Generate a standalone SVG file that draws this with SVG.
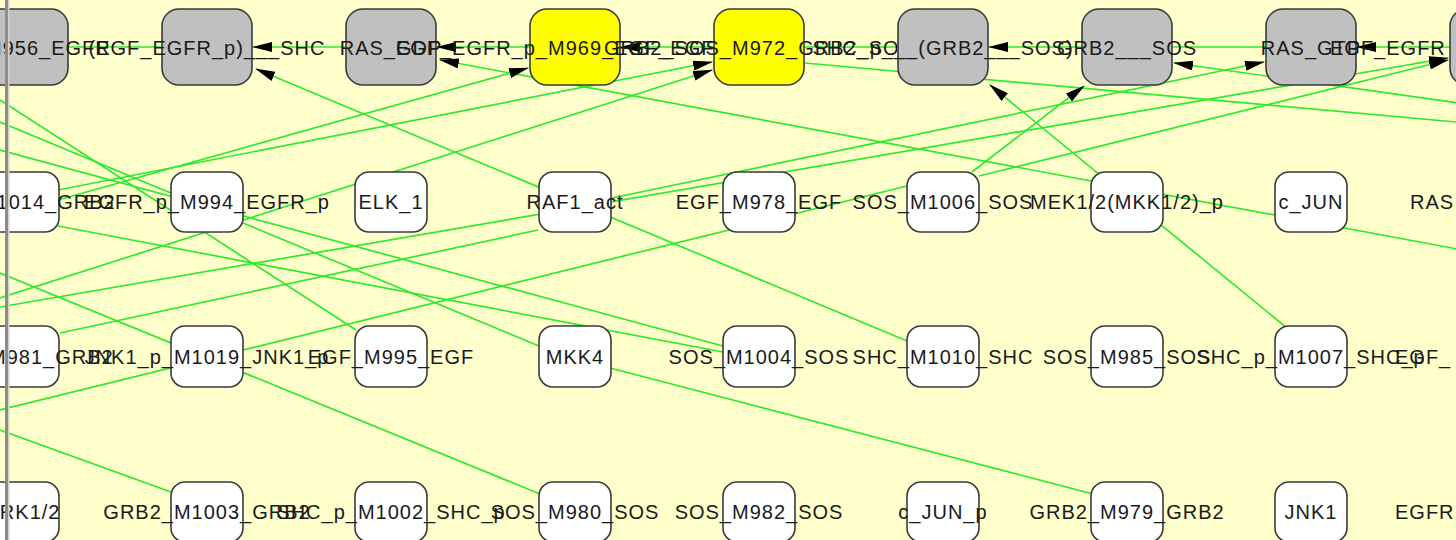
<svg xmlns="http://www.w3.org/2000/svg" width="1456" height="540" viewBox="0 0 1456 540">
  <style>
    .bg { fill: #FFFFCC; }
    .edge { stroke: #2EEA2E; stroke-width: 1.7; fill: none; }
    .arr { marker-end: url(#head); }
    .box { stroke: #3A3A3A; stroke-width: 1.6; }
    .big { fill: #C0C0C0; }
    .sel { fill: #FFFF00; }
    .plain { fill: #FFFFFF; }
    .lbl { font-family: "Liberation Sans", Arial, sans-serif; font-size: 20px; letter-spacing: 1px; fill: #1A1A1A; text-anchor: middle; }
    .lbl.start { text-anchor: start; }
  </style>
  <defs>
    <marker id="head" markerUnits="userSpaceOnUse" markerWidth="20" markerHeight="10" refX="19" refY="5" orient="auto">
      <path d="M0,0 L20,5 L0,10 Z" fill="#000"/>
    </marker>
  </defs>

  <rect class="bg" x="0" y="0" width="1456" height="540"/>

  <!-- connectors -->
  <g id="edges">
    <!-- top row, node to node -->
    <line class="edge" x1="68" y1="47" x2="162" y2="47"/>
    <line class="edge arr" x1="345" y1="47" x2="253" y2="47"/>
    <line class="edge arr" x1="530" y1="47" x2="437" y2="47"/>
    <line class="edge arr" x1="714" y1="47" x2="621" y2="47"/>
    <line class="edge" x1="804" y1="47" x2="898" y2="47"/>
    <line class="edge arr" x1="1082" y1="47" x2="989" y2="47"/>
    <line class="edge" x1="1172" y1="47" x2="1266" y2="47"/>
    <line class="edge arr" x1="1450" y1="47" x2="1357" y2="47"/>

    <!-- diagonals into the top row -->
    <line class="edge arr" x1="907" y1="341" x2="256" y2="69"/>
    <line class="edge arr" x1="1495" y1="256" x2="440" y2="60"/>
    <line class="edge arr" x1="58" y1="200" x2="528" y2="68"/>
    <line class="edge arr" x1="58" y1="190" x2="712" y2="62"/>
    <line class="edge arr" x1="0" y1="298" x2="712" y2="70"/>
    <line class="edge" x1="805" y1="63" x2="1456" y2="122"/>
    <line class="edge arr" x1="1495" y1="108" x2="1174" y2="63"/>
    <line class="edge arr" x1="1287" y1="328" x2="990" y2="85"/>
    <line class="edge arr" x1="972" y1="172" x2="1084" y2="86"/>
    <line class="edge arr" x1="612" y1="198" x2="1264" y2="62"/>
    <line class="edge arr" x1="979" y1="176" x2="1448" y2="60"/>
    <line class="edge arr" x1="0" y1="307" x2="1448" y2="58"/>

    <!-- lower crossings -->
    <line class="edge" x1="60" y1="333" x2="538" y2="230"/>
    <line class="edge" x1="0" y1="410" x2="907" y2="186"/>
    <line class="edge" x1="0" y1="273" x2="540" y2="494"/>
    <line class="edge" x1="0" y1="430" x2="171" y2="492"/>
    <line class="edge" x1="610" y1="368" x2="1093" y2="494"/>
    <line class="edge" x1="0" y1="100" x2="356" y2="330"/>
    <line class="edge" x1="0" y1="122" x2="539" y2="346"/>
    <line class="edge" x1="0" y1="150" x2="723" y2="346"/>
    <line class="edge" x1="58" y1="226" x2="723" y2="352"/>
  </g>

  <!-- top row -->
  <g id="n_r1c0"><rect class="box big" x="-22" y="9" width="90" height="76" rx="17"/><text class="lbl" x="12" y="55">EGFR_M956_EGFR</text></g>
  <g id="n_r1c1"><rect class="box big" x="162" y="9" width="90" height="76" rx="17"/><text class="lbl" x="207" y="55">(EGF_EGFR_p)___SHC</text></g>
  <g id="n_r1c2"><rect class="box big" x="346" y="9" width="90" height="76" rx="17"/><text class="lbl" x="391" y="55">RAS_GDP</text></g>
  <g id="n_r1c3"><rect class="box sel" x="530" y="9" width="90" height="76" rx="17"/><text class="lbl" x="575" y="55">EGF_EGFR_p_M969_EGF_EGFR_p</text></g>
  <g id="n_r1c4"><rect class="box sel" x="714" y="9" width="90" height="76" rx="17"/><text class="lbl" x="759" y="55">GRB2_SOS_M972_GRB2_SOS</text></g>
  <g id="n_r1c5"><rect class="box big" x="898" y="9" width="90" height="76" rx="17"/><text class="lbl" x="943" y="55">SHC_p___(GRB2___SOS)</text></g>
  <g id="n_r1c6"><rect class="box big" x="1082" y="9" width="90" height="76" rx="17"/><text class="lbl" x="1127" y="55">GRB2___SOS</text></g>
  <g id="n_r1c7"><rect class="box big" x="1266" y="9" width="90" height="76" rx="17"/><text class="lbl" x="1311" y="55">RAS_GTP</text></g>
  <g id="n_r1c8"><rect class="box big" x="1450" y="9" width="90" height="76" rx="17"/><text class="lbl start" x="1330" y="55">EGF_EGFR</text></g>

  <!-- second row -->
  <g id="n_r2c0"><rect class="box plain" x="-13" y="172" width="72" height="60" rx="14"/><text class="lbl" x="12" y="209">GRB2_M1014_GRB2</text></g>
  <g id="n_r2c1"><rect class="box plain" x="171" y="172" width="72" height="60" rx="14"/><text class="lbl" x="207" y="209">EGFR_p_M994_EGFR_p</text></g>
  <g id="n_r2c2"><rect class="box plain" x="355" y="172" width="72" height="60" rx="14"/><text class="lbl" x="391" y="209">ELK_1</text></g>
  <g id="n_r2c3"><rect class="box plain" x="539" y="172" width="72" height="60" rx="14"/><text class="lbl" x="575" y="209">RAF1_act</text></g>
  <g id="n_r2c4"><rect class="box plain" x="723" y="172" width="72" height="60" rx="14"/><text class="lbl" x="759" y="209">EGF_M978_EGF</text></g>
  <g id="n_r2c5"><rect class="box plain" x="907" y="172" width="72" height="60" rx="14"/><text class="lbl" x="943" y="209">SOS_M1006_SOS</text></g>
  <g id="n_r2c6"><rect class="box plain" x="1091" y="172" width="72" height="60" rx="14"/><text class="lbl" x="1127" y="209">MEK1/2(MKK1/2)_p</text></g>
  <g id="n_r2c7"><rect class="box plain" x="1275" y="172" width="72" height="60" rx="14"/><text class="lbl" x="1311" y="209">c_JUN</text></g>
  <g id="n_r2c8"><text class="lbl start" x="1410" y="209">RAS</text></g>

  <!-- third row -->
  <g id="n_r3c0"><rect class="box plain" x="-13" y="326" width="72" height="61" rx="14"/><text class="lbl" x="16" y="364">GRB2_M981_GRB2</text></g>
  <g id="n_r3c1"><rect class="box plain" x="171" y="326" width="72" height="61" rx="14"/><text class="lbl" x="207" y="364">JNK1_p_M1019_JNK1_p</text></g>
  <g id="n_r3c2"><rect class="box plain" x="355" y="326" width="72" height="61" rx="14"/><text class="lbl" x="391" y="364">EGF_M995_EGF</text></g>
  <g id="n_r3c3"><rect class="box plain" x="539" y="326" width="72" height="61" rx="14"/><text class="lbl" x="575" y="364">MKK4</text></g>
  <g id="n_r3c4"><rect class="box plain" x="723" y="326" width="72" height="61" rx="14"/><text class="lbl" x="759" y="364">SOS_M1004_SOS</text></g>
  <g id="n_r3c5"><rect class="box plain" x="907" y="326" width="72" height="61" rx="14"/><text class="lbl" x="943" y="364">SHC_M1010_SHC</text></g>
  <g id="n_r3c6"><rect class="box plain" x="1091" y="326" width="72" height="61" rx="14"/><text class="lbl" x="1127" y="364">SOS_M985_SOS</text></g>
  <g id="n_r3c7"><rect class="box plain" x="1275" y="326" width="72" height="61" rx="14"/><text class="lbl" x="1311" y="364">SHC_p_M1007_SHC_p</text></g>
  <g id="n_r3c8"><text class="lbl start" x="1395" y="364">EGF_</text></g>

  <!-- bottom row -->
  <g id="n_r4c0"><rect class="box plain" x="-13" y="482" width="72" height="60" rx="14"/><text class="lbl" x="23" y="519">ERK1/2</text></g>
  <g id="n_r4c1"><rect class="box plain" x="171" y="482" width="72" height="60" rx="14"/><text class="lbl" x="207" y="519">GRB2_M1003_GRB2</text></g>
  <g id="n_r4c2"><rect class="box plain" x="355" y="482" width="72" height="60" rx="14"/><text class="lbl" x="391" y="519">SHC_p_M1002_SHC_p</text></g>
  <g id="n_r4c3"><rect class="box plain" x="539" y="482" width="72" height="60" rx="14"/><text class="lbl" x="575" y="519">SOS_M980_SOS</text></g>
  <g id="n_r4c4"><rect class="box plain" x="723" y="482" width="72" height="60" rx="14"/><text class="lbl" x="759" y="519">SOS_M982_SOS</text></g>
  <g id="n_r4c5"><rect class="box plain" x="907" y="482" width="72" height="60" rx="14"/><text class="lbl" x="943" y="519">c_JUN_p</text></g>
  <g id="n_r4c6"><rect class="box plain" x="1091" y="482" width="72" height="60" rx="14"/><text class="lbl" x="1127" y="519">GRB2_M979_GRB2</text></g>
  <g id="n_r4c7"><rect class="box plain" x="1275" y="482" width="72" height="60" rx="14"/><text class="lbl" x="1311" y="519">JNK1</text></g>
  <g id="n_r4c8"><text class="lbl start" x="1395" y="519">EGFR</text></g>

  <!-- window frame on the left -->
  <rect x="5" y="0" width="3" height="540" fill="#8C8C8C"/>
  <rect x="8" y="0" width="1.5" height="540" fill="#D4D4C8"/>
</svg>
